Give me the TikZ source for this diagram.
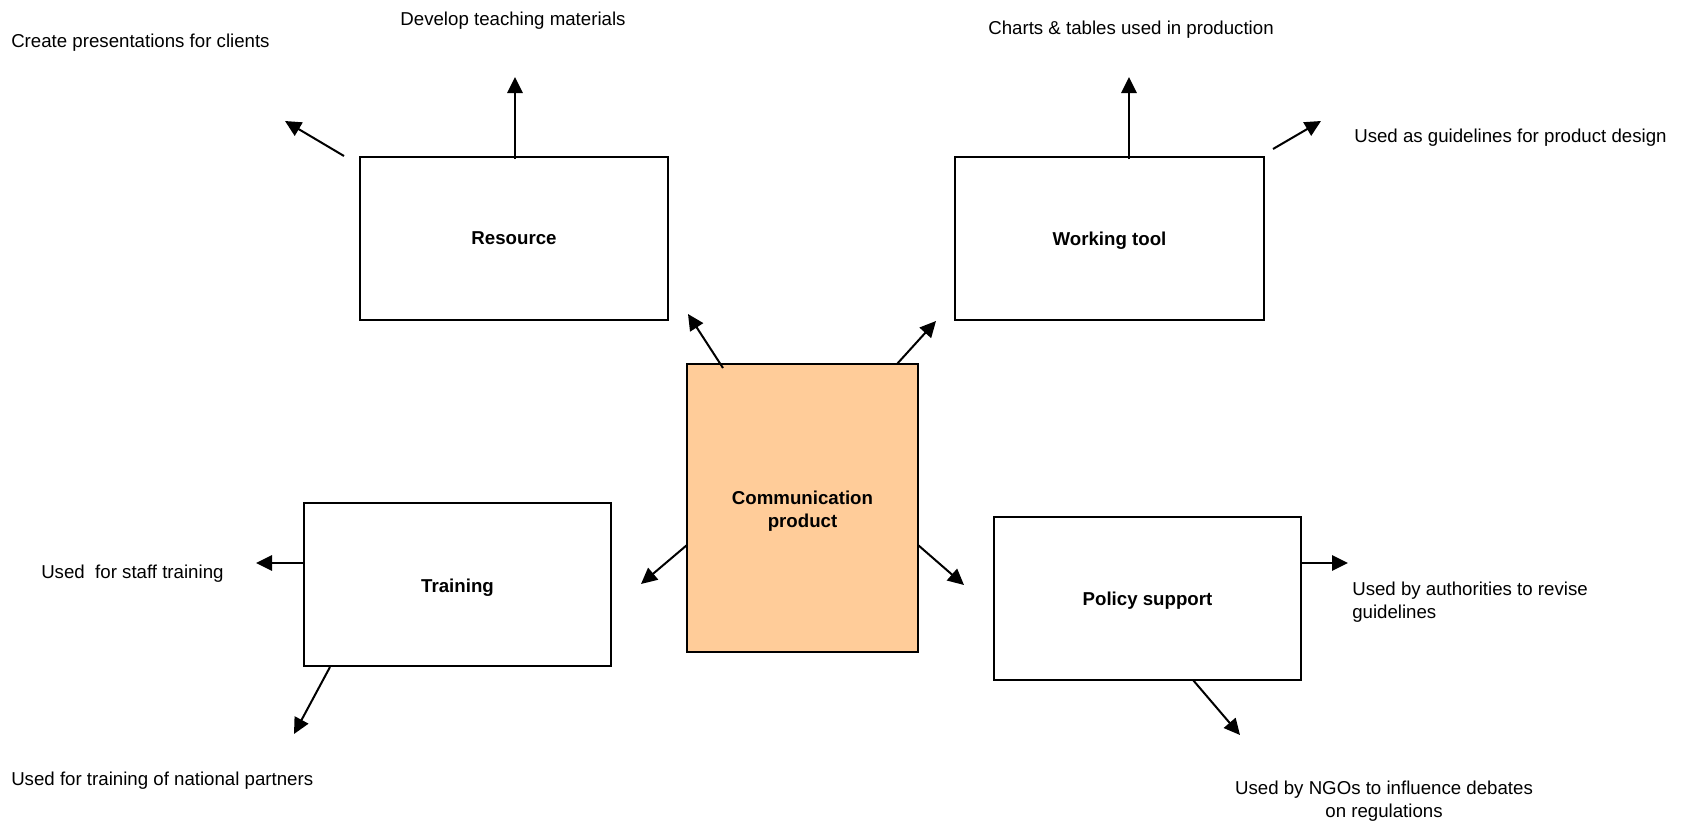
\documentclass[tikz,border=0pt]{standalone}
\usepackage{fontspec}
\setmainfont{Liberation Sans}
\usetikzlibrary{arrows.meta}
\definecolor{peach}{HTML}{FFCC99}
\begin{document}
\begin{tikzpicture}[x=0.75pt,y=-0.75pt,
  font=\fontsize{14}{17}\selectfont,
  box/.style={draw,line width=1.5pt,inner sep=0pt},
  lbl/.style={font=\fontsize{14}{17}\selectfont\bfseries,align=center},
  txt/.style={inner sep=0pt},
  conn/.style={line width=1.5pt,-{Triangle[length=12pt,width=11.5pt]}}]
\useasboundingbox (0,0) rectangle (1685,821);
% boxes
\draw[box] (360,157) rectangle (668,320);
\node[lbl] (res) at (514,238.5) {Resource};
\draw[box] (955,157) rectangle (1264,320);
\node[lbl] (wt) at (1109.5,241) {Working tool};
\draw[box,fill=peach] (687,364) rectangle (918,652);
\node[lbl] (cp) at (802.5,511) {Communication\\product};
\draw[box] (304,503) rectangle (611,666);
\node[lbl] (tr) at (457.5,588) {Training};
\draw[box] (994,517) rectangle (1301,680);
\node[lbl] (ps) at (1147.5,601) {Policy support};
% coordinates
\coordinate (a1s) at (515,159); \coordinate (a1e) at (515,77);
\coordinate (a2s) at (344,156); \coordinate (a2e) at (285,121);
\coordinate (a3s) at (1129,159); \coordinate (a3e) at (1129,77);
\coordinate (a4s) at (1273,149); \coordinate (a4e) at (1321,121);
\coordinate (a5s) at (723,368); \coordinate (a5e) at (688,314);
\coordinate (a6s) at (897,364); \coordinate (a6e) at (936,321);
\coordinate (a7s) at (687,545); \coordinate (a7e) at (641,584);
\coordinate (a8s) at (918,545); \coordinate (a8e) at (964,585);
\coordinate (a9s) at (304,563); \coordinate (a9e) at (256,563);
\coordinate (a10s) at (330,667); \coordinate (a10e) at (294,734);
\coordinate (a11s) at (1301,563); \coordinate (a11e) at (1348,563);
\coordinate (a12s) at (1193,680); \coordinate (a12e) at (1240,735);
\foreach \i in {1,...,12} {\draw[conn] (a\i s) -- (a\i e);}
% texts
\node[txt,anchor=west] (t1) at (11,42.5) {Create presentations for clients};
\node[txt] (t2) at (513,21) {Develop teaching materials};
\node[txt] (t3) at (1131,30) {Charts \& tables used in production};
\node[txt,anchor=west] (t4) at (1354,138) {Used as guidelines for product design};
\node[txt,anchor=west] (t5) at (41,573.5) {Used\ \ for staff training};
\node[txt,anchor=west] (t6) at (11,780.5) {Used for training of national partners};
\node[txt,anchor=west,align=left] (t7) at (1352,602) {Used by authorities to revise\\guidelines};
\node[txt,align=center] (t8) at (1384,801) {Used by NGOs to influence debates\\on regulations};
\end{tikzpicture}
\end{document}
